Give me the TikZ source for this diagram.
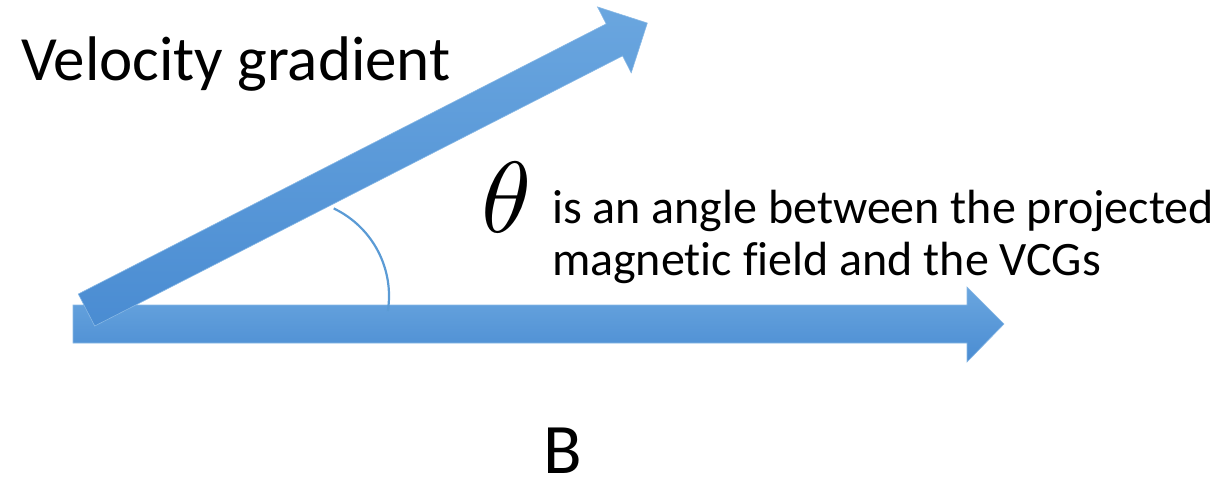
\documentclass[tikz,border=0pt]{standalone}
\usepackage{fontspec}
\setmainfont{Carlito}[Ligatures=NoCommon]
\definecolor{arrowtop}{HTML}{6AA6DF}
\definecolor{arrowbot}{HTML}{4A8CD2}
\definecolor{arcblue}{HTML}{5B9BD5}
\tikzset{
  bigarrow/.style={top color=arrowtop, bottom color=arrowbot, draw=arrowtop!80!white, line width=0.6pt},
  anglearc/.style={draw=arcblue, line width=2.2pt},
  lbl/.style={inner sep=0pt, outer sep=0pt, anchor=base west, text=black},
}
\begin{document}
\begin{tikzpicture}[x=1pt,y=-1pt]
\useasboundingbox (0,0) rectangle (1220,477);
% horizontal arrow (B)
\path[bigarrow] (73,305) -- (967,305) -- (967,287) -- (1004,324) -- (967,362) -- (967,343) -- (73,343) -- cycle;
% angle arc
\draw[anglearc] (292,296) ++(-64.5:97) arc[start angle=-64.5, end angle=9, radius=97];
% diagonal arrow (velocity gradient)
\begin{scope}[shift={(86.5,310)}, rotate=27.1]
\path[bigarrow] (0,-18) -- (593,-18) -- (593,-37) -- (630,0) -- (593,37) -- (593,18) -- (0,18) -- cycle;
\end{scope}
% labels
\node[lbl, font=\fontsize{63}{70}\selectfont] (vg) at (21,80) {Velocity gradient};
\node[lbl, scale=10.1] (theta) at (481,232) {$\theta$};
\node[lbl, font=\fontsize{48}{54}\selectfont] (cap1) at (552,223) {is an angle between the projected};
\node[lbl, font=\fontsize{48}{54}\selectfont] (cap2) at (552,275) {magnetic field and the VCGs};
\node[lbl, font=\fontsize{71}{80}\selectfont] (b) at (543,473) {B};
\end{tikzpicture}
\end{document}
